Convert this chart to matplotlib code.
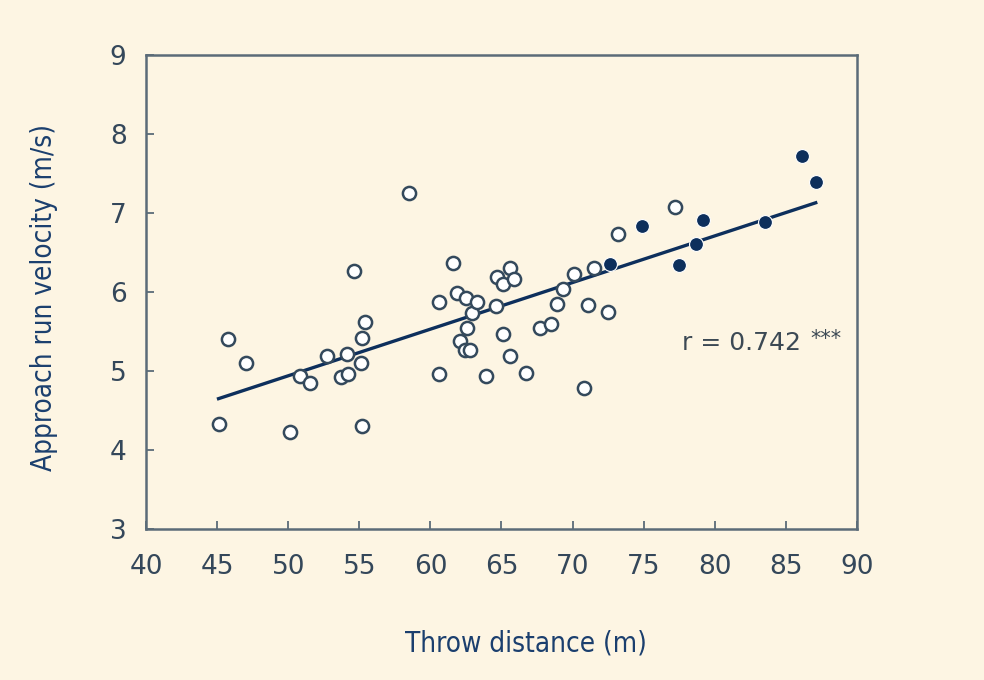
import matplotlib.pyplot as plt

# open circles: throw distance (m) / approach run velocity (m/s)
open_x = [45.1, 45.8, 47.0, 50.1, 50.8, 51.5, 52.7, 53.7, 54.2, 54.1, 54.6,
          55.1, 55.2, 55.4, 55.2, 58.5, 60.6, 60.6, 61.6, 61.9, 62.5, 62.1,
          62.4, 62.8, 62.6, 62.9, 63.3, 63.9, 64.6, 64.7, 65.1, 65.6, 65.9,
          65.1, 65.6, 66.7, 67.7, 68.5, 68.9, 69.3, 70.1, 71.1, 70.8, 71.5,
          72.5, 73.2, 77.2]
open_y = [4.33, 5.41, 5.10, 4.23, 4.94, 4.85, 5.19, 4.93, 4.96, 5.22, 6.26,
          5.10, 5.42, 5.62, 4.30, 7.26, 5.88, 4.96, 6.37, 5.99, 5.93, 5.38,
          5.26, 5.26, 5.54, 5.74, 5.88, 4.94, 5.82, 6.19, 6.10, 6.31, 6.16,
          5.47, 5.19, 4.98, 5.54, 5.59, 5.85, 6.04, 6.23, 5.84, 4.79, 6.30,
          5.75, 6.74, 7.08]

# filled circles
filled_x = [72.6, 74.9, 77.5, 78.7, 79.2, 83.5, 86.1, 87.1]
filled_y = [6.36, 6.84, 6.34, 6.61, 6.91, 6.89, 7.72, 7.39]

# regression line end points
fit_x = [45.1, 87.1]
fit_y = [4.65, 7.13]

bg = '#fdf5e3'
navy = '#0d2f5c'
frame = '#5b6b78'
tick_col = '#34475a'
label_col = '#1b3f6e'

fig = plt.figure(figsize=(9.84, 6.8), dpi=100, facecolor=bg)
ax = fig.add_axes([0.1484, 0.2221, 0.7225, 0.6969], facecolor=bg)

ax.plot(fit_x, fit_y, color=navy, lw=2.4, zorder=2)
ax.scatter(open_x, open_y, s=90, facecolor='white', edgecolor='#34495c',
           linewidth=1.8, zorder=3)
ax.scatter(filled_x, filled_y, s=100, facecolor=navy, edgecolor='white',
           linewidth=0.8, zorder=4)

ax.set_xlim(40, 90)
ax.set_ylim(3, 9)
ax.set_xticks(range(40, 91, 5))
ax.set_yticks(range(3, 10))

for s in ax.spines.values():
    s.set_color(frame)
    s.set_linewidth(1.8)

ax.tick_params(direction='in', length=6, width=1.3, color=frame,
               labelsize=19, labelcolor=tick_col)
ax.tick_params(axis='x', pad=18)
ax.tick_params(axis='y', pad=14)

ax.text(77.7, 5.35, 'r = 0.742', fontsize=18, color='#3c4954',
        ha='left', va='center')
ax.text(86.7, 5.40, '***', fontsize=15, color='#3c4954',
        ha='left', va='center')

fig.text(0.534, 0.054, 'Throw distance (m)', fontsize=20, color=label_col,
         family='DejaVu Sans', stretch='condensed', ha='center', va='center')
fig.text(0.045, 0.563, 'Approach run velocity (m/s)', fontsize=20,
         color=label_col, family='DejaVu Sans', stretch='condensed',
         rotation=90, ha='center', va='center')

fig.savefig('out.png', dpi=100, facecolor=bg)
